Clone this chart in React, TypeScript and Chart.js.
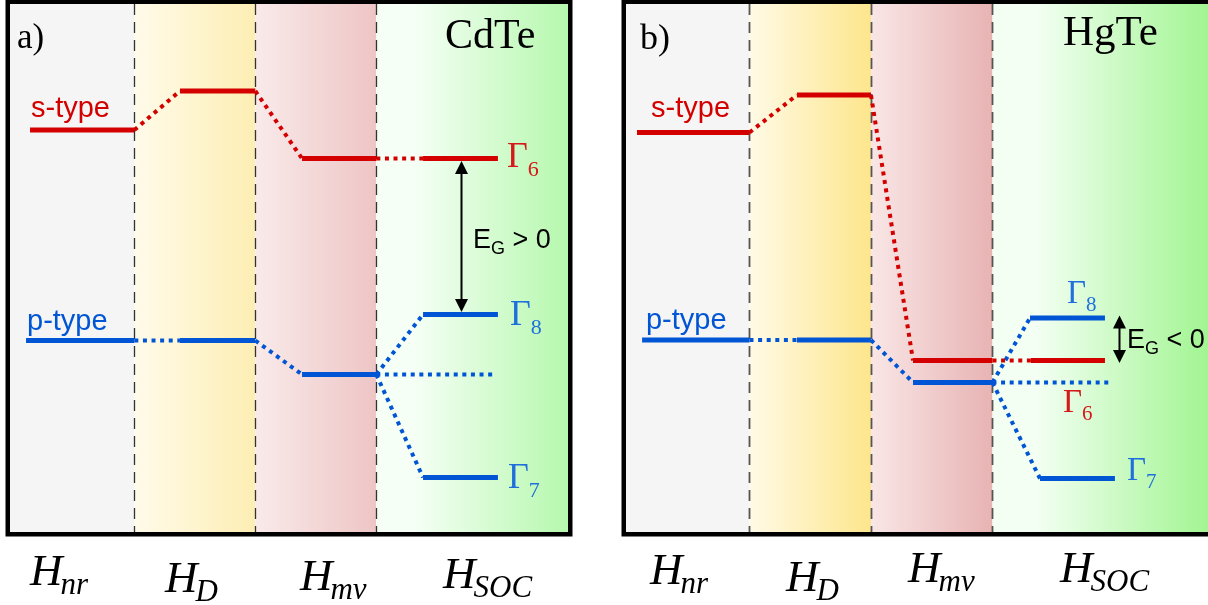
import React, { useEffect, useRef } from "react";
import { Chart, registerables } from "chart.js";

Chart.register(...registerables);

// ---- data: level energies (arb. units) per Hamiltonian stage [H_nr, H_D, H_mv]
const stageNames = ["nr", "D", "mv", "SOC"];
const cdteS = [4.02, 4.41, 3.735];
const cdteP = [1.915, 1.915, 1.575];
const cdteGamma = [3.735, 2.175, 0.545]; // Γ6, Γ8, Γ7
const hgteS = [3.995, 4.37, 1.715];
const hgteP = [1.92, 1.92, 1.495];
const hgteGamma = [1.715, 2.14, 0.535]; // Γ6, Γ8, Γ7
const gammaNames = ["6", "8", "7"];
const materials = ["CdTe", "HgTe"];
const panelTags = ["a)", "b)"];
const gapTexts = [" > 0", " < 0"];

const RED = "#d40000";
const BLUE = "#0055d4";
const GRED = "#d41a1a";
const GBLUE = "#1f6fdc";

// ---- layout (stage coordinate on x, energy on y)
const panels = [
  {
    tag: panelTags[0], title: materials[0], s: cdteS, p: cdteP, gamma: cdteGamma, gapText: gapTexts[0],
    padL: 10, padR: 36, xMin: -0.0275, xMax: 4.584,
    sStart: 0.138, pStart: 0.105, starts: [0, 1.377, 2.386], ends: [1.0, 2.0, 3.0],
    soc: [[3.386, 4.005], [3.386, 4.005], [3.386, 4.005]], contEnd: 3.99,
    bg: { D: ["#fffbea", "#fdeeb3"], mv: ["#f9eaea", "#eec5c5"], soc: ["#f5fff5", "#b6f8ae"] },
    divColor: "#333", divWidth: 1.3,
    tagPos: [0.03, 4.84], tagSize: 35, titlePos: [3.568, 4.84], titleSize: 42,
    sLab: [0.146, 4.15], pLab: [0.113, 2.02], typeSize: 29,
    gLab: [[4.08, 3.65], [4.105, 2.07], [4.088, 0.44]], gSize: 36, gSub: 22,
    arrowX: 3.70, arrowTop: 0, arrowBot: 1, tipOff: 2.5,
    gapPos: [3.799, 2.84], gapSize: 27, gapSub: 18,
    hX: [0.138, 1.253, 2.369, 3.551], hE: [-0.53, -0.60, -0.58, -0.56],
  },
  {
    tag: panelTags[1], title: materials[1], s: hgteS, p: hgteP, gamma: hgteGamma, gapText: gapTexts[1],
    padL: 22, padR: 0, xMin: -0.0165, xMax: 4.774,
    sStart: 0.074, pStart: 0.116, starts: [0, 1.391, 2.346], ends: [1.0, 2.0, 3.0],
    soc: [[3.317, 3.926], [3.309, 3.926], [3.391, 4.008]], contEnd: 3.984,
    bg: { D: ["#fffae6", "#fde68c"], mv: ["#f9e6e6", "#e8b3b3"], soc: ["#f3fff3", "#a2f592"] },
    divColor: "#555", divWidth: 1.8,
    tagPos: [0.099, 4.83], tagSize: 36, titlePos: [3.58, 4.87], titleSize: 43,
    sLab: [0.19, 4.15], pLab: [0.148, 2.03], typeSize: 29,
    gLab: [[3.58, 1.2], [3.613, 2.29], [4.107, 0.52]], gSize: 33, gSub: 21,
    arrowX: 4.041, arrowTop: 1, arrowBot: 0, tipOff: -2.5,
    gapPos: [4.107, 1.84], gapSize: 27, gapSub: 18,
    hX: [0.181, 1.30, 2.305, 3.556], hE: [-0.52, -0.59, -0.50, -0.50],
  },
];

function makeDatasets(P: any) {
  const out: any[] = [];
  const add = (pts: number[][], color: string, dotted: boolean) =>
    out.push({
      data: pts.map(([x, y]) => ({ x, y })),
      borderColor: color,
      borderWidth: dotted ? 4 : 5,
      borderDash: dotted ? [4, 4.6] : [],
      borderCapStyle: "butt",
      pointRadius: 0,
      pointHoverRadius: 0,
      fill: false,
      tension: 0,
      clip: false,
    });
  const series = [
    { e: P.s, start: P.sStart, color: RED },
    { e: P.p, start: P.pStart, color: BLUE },
  ];
  for (const sr of series) {
    for (let i = 0; i < 3; i++) {
      const x0 = i === 0 ? sr.start : P.starts[i];
      add([[x0, sr.e[i]], [P.ends[i], sr.e[i]]], sr.color, false);
      if (i < 2) add([[P.ends[i], sr.e[i]], [P.starts[i + 1], sr.e[i + 1]]], sr.color, true);
    }
  }
  const mvEnd = P.ends[2];
  add([[mvEnd, P.s[2]], [P.soc[0][0], P.gamma[0]]], RED, true);
  add([[P.soc[0][0], P.gamma[0]], [P.soc[0][1], P.gamma[0]]], RED, false);
  add([[mvEnd, P.p[2]], [P.contEnd, P.p[2]]], BLUE, true);
  add([[mvEnd, P.p[2]], [P.soc[1][0], P.gamma[1]]], BLUE, true);
  add([[P.soc[1][0], P.gamma[1]], [P.soc[1][1], P.gamma[1]]], BLUE, false);
  add([[mvEnd, P.p[2]], [P.soc[2][0], P.gamma[2]]], BLUE, true);
  add([[P.soc[2][0], P.gamma[2]], [P.soc[2][1], P.gamma[2]]], BLUE, false);
  return out;
}

function makePlugin(P: any) {
  return {
    id: "panelDecor",
    beforeDatasetsDraw(chart: any) {
      const { ctx, chartArea: a } = chart;
      const xs = chart.scales.x;
      const b = [a.left, xs.getPixelForValue(1), xs.getPixelForValue(2), xs.getPixelForValue(3), a.right];
      ctx.save();
      ctx.fillStyle = "#f5f5f5";
      ctx.fillRect(b[0], a.top, b[1] - b[0], a.bottom - a.top);
      const cols = [P.bg.D, P.bg.mv, P.bg.soc];
      for (let i = 1; i <= 3; i++) {
        const g = ctx.createLinearGradient(b[i], 0, b[i + 1], 0);
        const c = cols[i - 1];
        g.addColorStop(0, c[0]);
        if (i === 3) g.addColorStop(0.2, c[0]);
        g.addColorStop(1, c[1]);
        ctx.fillStyle = g;
        ctx.fillRect(b[i], a.top, b[i + 1] - b[i], a.bottom - a.top);
      }
      ctx.strokeStyle = P.divColor;
      ctx.lineWidth = P.divWidth;
      ctx.setLineDash([11, 7]);
      for (let i = 1; i <= 3; i++) {
        const x = Math.round(b[i]) + 0.5;
        ctx.beginPath();
        ctx.moveTo(x, a.top);
        ctx.lineTo(x, a.bottom);
        ctx.stroke();
      }
      ctx.restore();
    },
    afterDatasetsDraw(chart: any) {
      const { ctx, chartArea: a } = chart;
      const X = (v: number) => chart.scales.x.getPixelForValue(v);
      const Y = (v: number) => chart.scales.y.getPixelForValue(v);
      ctx.save();
      // frame
      ctx.setLineDash([]);
      ctx.strokeStyle = "#000";
      ctx.lineWidth = 4.5;
      ctx.strokeRect(a.left - 2.25, a.top - 2.25, a.right - a.left + 4.5, a.bottom - a.top + 4.5);

      ctx.textBaseline = "alphabetic";
      ctx.textAlign = "left";
      const text = (s: string, x: number, y: number, font: string, color: string) => {
        ctx.font = font;
        ctx.fillStyle = color;
        ctx.fillText(s, x, y);
        return ctx.measureText(s).width;
      };
      // tag and title
      text(P.tag, X(P.tagPos[0]), Y(P.tagPos[1]), `${P.tagSize}px "Liberation Serif"`, "#000");
      text(P.title, X(P.titlePos[0]), Y(P.titlePos[1]), `${P.titleSize}px "Liberation Serif"`, "#000");
      // type labels
      text("s-type", X(P.sLab[0]), Y(P.sLab[1]), `${P.typeSize}px "Liberation Sans"`, RED);
      text("p-type", X(P.pLab[0]), Y(P.pLab[1]), `${P.typeSize}px "Liberation Sans"`, BLUE);
      // gamma labels
      for (let i = 0; i < 3; i++) {
        const col = i === 0 ? GRED : GBLUE;
        const gx = X(P.gLab[i][0]);
        const gy = Y(P.gLab[i][1]);
        const w = text("Γ", gx, gy, `${P.gSize}px "Liberation Serif"`, col);
        text(gammaNames[i], gx + w, gy + P.gSub * 0.4, `${P.gSub}px "Liberation Serif"`, col);
      }
      // gap arrow
      const ax = Math.round(X(P.arrowX)) + 0.5;
      const yTop = Y(P.gamma[P.arrowTop]) + P.tipOff;
      const yBot = Y(P.gamma[P.arrowBot]) - P.tipOff;
      const hl = 13, hw = 6.5;
      ctx.strokeStyle = "#000";
      ctx.fillStyle = "#000";
      ctx.lineWidth = 2;
      ctx.beginPath();
      ctx.moveTo(ax, yTop + hl - 1);
      ctx.lineTo(ax, yBot - hl + 1);
      ctx.stroke();
      ctx.beginPath();
      ctx.moveTo(ax, yTop);
      ctx.lineTo(ax - hw, yTop + hl);
      ctx.lineTo(ax + hw, yTop + hl);
      ctx.closePath();
      ctx.fill();
      ctx.beginPath();
      ctx.moveTo(ax, yBot);
      ctx.lineTo(ax - hw, yBot - hl);
      ctx.lineTo(ax + hw, yBot - hl);
      ctx.closePath();
      ctx.fill();
      // gap text
      let tx = X(P.gapPos[0]);
      const ty = Y(P.gapPos[1]);
      tx += text("E", tx, ty, `${P.gapSize}px "Liberation Sans"`, "#000");
      tx += text("G", tx, ty + 6, `${P.gapSub}px "Liberation Sans"`, "#000");
      text(P.gapText, tx, ty, `${P.gapSize}px "Liberation Sans"`, "#000");
      // Hamiltonian labels
      for (let i = 0; i < 4; i++) {
        const hx = X(P.hX[i]);
        const hy = Y(P.hE[i]);
        const w = text("H", hx, hy, `italic 45px "Liberation Serif"`, "#000");
        text(stageNames[i], hx + w - 2, hy + 9, `italic 31px "Liberation Serif"`, "#000");
      }
      ctx.restore();
    },
  };
}

function makeConfig(P: any): any {
  return {
    type: "line",
    data: { datasets: makeDatasets(P) },
    options: {
      responsive: false,
      animation: false,
      events: [],
      layout: { padding: { left: P.padL, right: P.padR, top: 4, bottom: 73 } },
      scales: {
        x: { type: "linear", min: P.xMin, max: P.xMax, display: false },
        y: { type: "linear", min: 0, max: 5.28, display: false },
      },
      plugins: { legend: { display: false }, tooltip: { enabled: false } },
    },
    plugins: [makePlugin(P)],
  };
}

export default function App() {
  const leftRef = useRef<HTMLCanvasElement>(null);
  const rightRef = useRef<HTMLCanvasElement>(null);
  useEffect(() => {
    document.body.style.margin = "0";
    const c1 = new Chart(leftRef.current as HTMLCanvasElement, makeConfig(panels[0]));
    const c2 = new Chart(rightRef.current as HTMLCanvasElement, makeConfig(panels[1]));
    return () => {
      c1.destroy();
      c2.destroy();
    };
  }, []);
  return (
    <div style={{ position: "absolute", left: 0, top: 0, width: 1208, height: 605, background: "#fff", overflow: "hidden" }}>
      <canvas ref={leftRef} width={604} height={605} style={{ position: "absolute", left: 0, top: 0 }} />
      <canvas ref={rightRef} width={604} height={605} style={{ position: "absolute", left: 604, top: 0 }} />
    </div>
  );
}
